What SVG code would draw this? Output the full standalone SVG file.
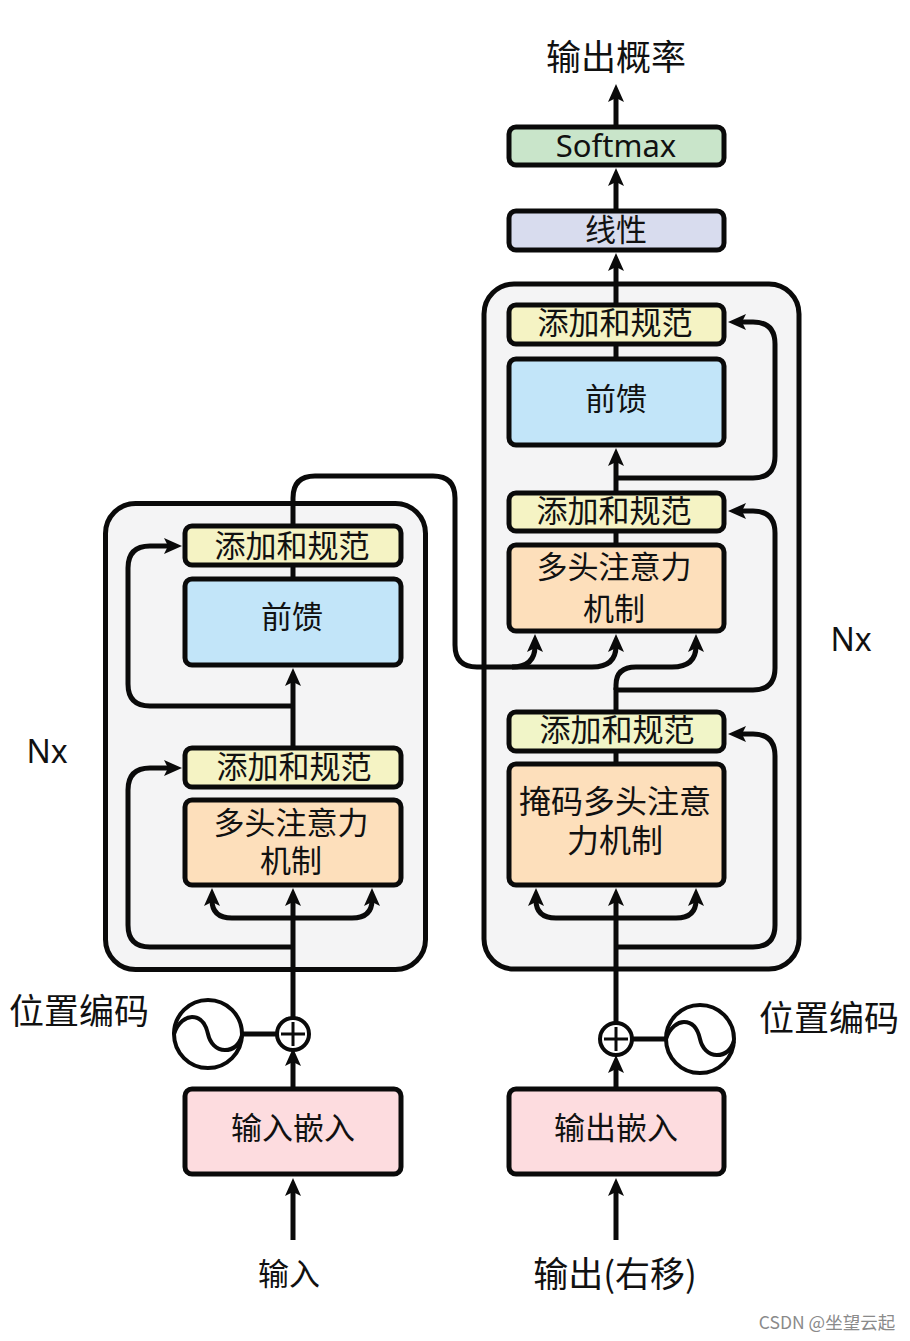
<svg xmlns="http://www.w3.org/2000/svg" width="910" height="1341" viewBox="0 0 910 1341">
<style>
text{font-family:"Noto Sans CJK SC","Noto Sans",sans-serif;fill:#111;text-anchor:middle;font-size:31px}
.lat{font-family:"Noto Sans","Liberation Sans",sans-serif}
.panel{fill:#f4f4f5;stroke:#0a0a0a;stroke-width:5}
.box{stroke:#0a0a0a;stroke-width:5}
.yellow{fill:#f5f3c4}.blue{fill:#c2e5f9}.orange{fill:#fddfbb}.pink{fill:#fddcdf}.green{fill:#c9e5ca}.lilac{fill:#d8dcee}
.line{fill:none;stroke:#0a0a0a;stroke-width:5}
.arr{marker-end:url(#a)}
.ring{fill:#fff;stroke:#0a0a0a;stroke-width:4}
.wave{fill:none;stroke:#0a0a0a;stroke-width:4}
</style>
<defs>
<marker id="a" markerUnits="userSpaceOnUse" markerWidth="20" markerHeight="18" refX="6" refY="9" orient="auto" viewBox="0 0 20 18">
<path d="M18 9 L0 1 L4 9 L0 17 Z" fill="#0a0a0a"/>
</marker>
</defs>
<rect width="910" height="1341" fill="#fff"/>
<g id="panels">
<rect id="encoder-panel" class="panel" x="105.500" y="503.500" width="320" height="466" rx="30"/>
<rect id="decoder-panel" class="panel" x="484" y="284" width="315" height="685" rx="30"/>
</g>
<g id="connectors">
<path class="line arr" d="M293 1240V1190"/>
<path class="line arr" d="M293 1088V1060"/>
<path class="line arr" d="M293 1018V900"/>
<path class="line" d="M243 1034H277"/>
<path class="line arr" d="M232 918Q212 918 212 900"/>
<path class="line arr" d="M232 918H352Q372 918 372 900"/>
<path class="line arr" d="M293 947H150Q128 947 128 925V790Q128 768 150 768H170"/>
<path class="line arr" d="M293 747V680"/>
<path class="line arr" d="M293 706H150Q128 706 128 684V568Q128 546 150 546H170"/>
<path class="line" d="M293 578V566"/>
<path class="line arr" d="M293 526V498Q293 476 315 476H433Q455 476 455 498V645Q455 667 477 667H512Q535 667 535 646"/>
<path class="line arr" d="M512 667H592Q616 667 616 646"/>
<path class="line arr" d="M616 1240V1190"/>
<path class="line arr" d="M616 1088V1067"/>
<path class="line arr" d="M616 1023V900"/>
<path class="line" d="M632 1039H665"/>
<path class="line arr" d="M556 918Q536 918 536 900"/>
<path class="line arr" d="M556 918H676Q696 918 696 900"/>
<path class="line arr" d="M616 947H753Q775 947 775 925V756Q775 734 753 734H740"/>
<path class="line" d="M616 763V751"/>
<path class="line arr" d="M616 711V690H753Q775 690 775 668V533Q775 511 753 511H740"/>
<path class="line arr" d="M616 690V685Q616 667 636 667H672Q696 667 696 646"/>
<path class="line" d="M616 544V531"/>
<path class="line arr" d="M616 492V460"/>
<path class="line arr" d="M616 478H753Q775 478 775 456V344Q775 322 753 322H740"/>
<path class="line" d="M616 358V344"/>
<path class="line arr" d="M616 304V265"/>
<path class="line arr" d="M616 210V180"/>
<path class="line arr" d="M616 126V96"/>
</g>
<g id="enc-addnorm-top"><rect class="box yellow" x="185" y="526" width="216" height="39" rx="7"/><text x="292" y="557">添加和规范</text></g>
<g id="enc-feedforward"><rect class="box blue" x="185" y="579" width="216" height="86" rx="7"/><text x="292" y="628">前馈</text></g>
<g id="enc-addnorm-low"><rect class="box yellow" x="185" y="748" width="216" height="39" rx="7"/><text x="294" y="778">添加和规范</text></g>
<g id="enc-attention"><rect class="box orange" x="185" y="800" width="216" height="85" rx="7"/><text x="291" y="834">多头注意力<tspan x="291" y="872">机制</tspan></text></g>
<g id="enc-embedding"><rect class="box pink" x="185" y="1089" width="216" height="85" rx="7"/><text x="293" y="1139">输入嵌入</text></g>
<g id="dec-softmax"><rect class="box green" x="509" y="127" width="215" height="38" rx="7"/><text class="lat" x="616" y="157">Softmax</text></g>
<g id="dec-linear"><rect class="box lilac" x="509" y="211" width="215" height="39" rx="7"/><text x="616" y="241">线性</text></g>
<g id="dec-addnorm-1"><rect class="box yellow" x="509" y="305" width="215" height="39" rx="7"/><text x="615" y="334">添加和规范</text></g>
<g id="dec-feedforward"><rect class="box blue" x="509" y="359" width="215" height="86" rx="7"/><text x="616" y="410">前馈</text></g>
<g id="dec-addnorm-2"><rect class="box yellow" x="509" y="493" width="215" height="38" rx="7"/><text x="614" y="522">添加和规范</text></g>
<g id="dec-attention"><rect class="box orange" x="509" y="545" width="215" height="86" rx="7"/><text x="614" y="578">多头注意力<tspan x="614" y="620">机制</tspan></text></g>
<g id="dec-addnorm-3"><rect class="box yellow" x="509" y="712" width="215" height="39" rx="7" style="fill:#f1f5c8"/><text x="617" y="741">添加和规范</text></g>
<g id="dec-masked-attention"><rect class="box orange" x="509" y="764" width="215" height="121" rx="7"/><text x="615" y="813" style="font-size:32px">掩码多头注意<tspan x="615" y="852">力机制</tspan></text></g>
<g id="dec-embedding"><rect class="box pink" x="509" y="1089" width="215" height="85" rx="7"/><text x="616" y="1139">输出嵌入</text></g>
<g id="enc-pos"><circle class="ring" cx="208" cy="1034" r="34"/><path class="wave" d="M174 1034C178 1022 186 1017 192 1017C202 1017 206 1025 208 1034C210 1043 216 1050 225 1050C233 1050 239 1045 242 1036"/><circle class="ring" cx="293" cy="1034" r="16"/><path class="line" style="stroke-width:3" d="M281 1034H305M293 1022V1046"/><text x="79" y="1024" style="font-size:35px">位置编码</text></g>
<g id="dec-pos"><circle class="ring" cx="700" cy="1039" r="34"/><path class="wave" d="M666 1039C670 1027 678 1022 684 1022C694 1022 698 1030 700 1039C702 1048 708 1055 717 1055C725 1055 731 1050 734 1041"/><circle class="ring" cx="616" cy="1039" r="16"/><path class="line" style="stroke-width:3" d="M604 1039H628M616 1027V1051"/><text x="829" y="1031" style="font-size:35px">位置编码</text></g>
<g id="labels">
<text x="616" y="70" style="font-size:35px">输出概率</text>
<text x="289" y="1285">输入</text>
<text x="615" y="1287" style="font-size:35px">输出(右移)</text>
<text class="lat" x="47" y="763" style="font-size:32px">Nx</text>
<text class="lat" x="851" y="651" style="font-size:32px">Nx</text>
<text x="827" y="1329" style="font-size:17.500px;fill:#8a8a8a">CSDN @坐望云起</text>
</g>
</svg>
